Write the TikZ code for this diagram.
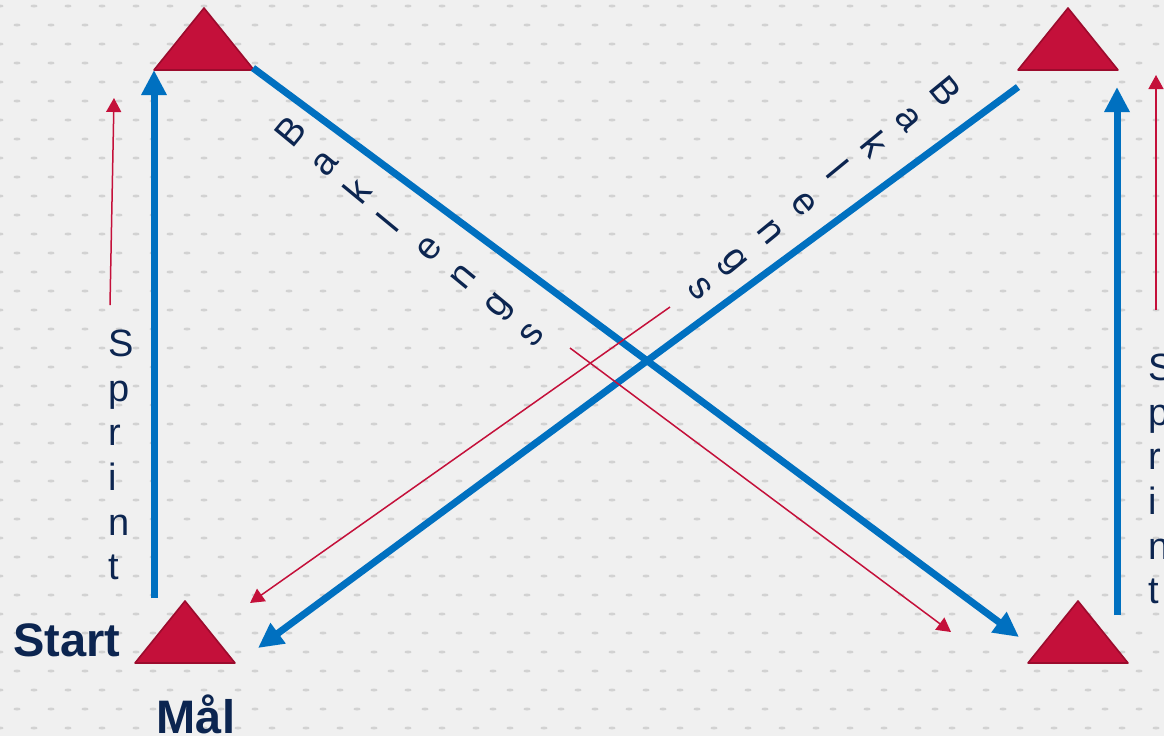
\documentclass[tikz,border=0pt]{standalone}
\usepackage{fontspec}
\setmainfont{Liberation Sans}
\usetikzlibrary{arrows.meta, calc}
\definecolor{DrillBlue}{HTML}{0070C0}
\definecolor{ConeRed}{HTML}{C4103A}
\definecolor{ConeEdge}{HTML}{9C0B2D}
\definecolor{Navy}{HTML}{0C2550}
\definecolor{Fabric}{HTML}{F0F0F0}
\definecolor{FabricDot}{HTML}{D2D2D2}

\begin{document}
\begin{tikzpicture}[x=0.5pt, y=-0.5pt]
  \tikzstyle{cone} = [fill=ConeRed, draw=ConeEdge, line width=0.8pt, line join=round]
  \tikzstyle{run}  = [draw=DrillBlue, line width=3.5pt, -{Triangle[width=12pt, length=12.5pt]}]
  \tikzstyle{hint} = [draw=ConeRed, line width=0.75pt, -{Triangle[width=7.5pt, length=7pt]}]
  \tikzstyle{word} = [inner sep=0pt, align=left, text=Navy, font=\fontsize{19}{22.3}\selectfont]
  \tikzstyle{tag}  = [inner sep=0pt, anchor=base, text=Navy, font=\fontsize{23.5}{28}\selectfont\bfseries]

  % Fabric background
  \useasboundingbox (0,0) rectangle (1164,736);
  \fill[Fabric] (0,0) rectangle (1164,736);
  \begin{scope}
    \clip (0,0) rectangle (1164,736);
    \foreach \r in {0,...,39} {
      \pgfmathsetmacro{\rowshift}{mod(\r,2)*17}
      \foreach \c in {0,...,34}
        \fill[FabricDot] (\c*34+\rowshift, \r*19+6) ellipse [x radius=3.5, y radius=1.5];
    }
  \end{scope}

  % Cones
  \foreach \ax/\ay in {204/8, 185/601, 1068/8, 1078/601}
    \draw[cone] (\ax,\ay) -- (\ax+50,\ay+62) -- (\ax-50,\ay+62) -- cycle;

  % Arrow ends
  \coordinate (sprintL0) at (154,598);
  \coordinate (sprintL1) at (154,70);
  \coordinate (sprintR0) at (1117,615);
  \coordinate (sprintR1) at (1117,87);
  \coordinate (backL0) at (253,68);
  \coordinate (backL1) at (1019,637);
  \coordinate (backR0) at (1018,87);
  \coordinate (backR1) at (258,648);
  \coordinate (hintL0) at (110,305);
  \coordinate (hintL1) at (114,98);
  \coordinate (hintR0) at (1156,310);
  \coordinate (hintR1) at (1156,75);
  \coordinate (hintA0) at (670,307);
  \coordinate (hintA1) at (250,603);
  \coordinate (hintB0) at (570,348);
  \coordinate (hintB1) at (951,632);

  % Runs
  \draw[run] (sprintL0) -- (sprintL1);
  \draw[run] (sprintR0) -- (sprintR1);
  \draw[run] (backL0) -- (backL1);
  \draw[run] (backR0) -- (backR1);
  \draw[hint] (hintL0) -- (hintL1);
  \draw[hint] (hintR0) -- (hintR1);
  \draw[hint] (hintA0) -- (hintA1);
  \draw[hint] (hintB0) -- (hintB1);

  % Labels
  \node[word, anchor=west] (sprintL) at (108,455) {S\\p\\r\\i\\n\\t};
  \node[word, anchor=west] (sprintR) at (1148,479) {S\\p\\r\\i\\n\\t};
  \node[word, rotate=50.5] (bakL) at (411,231) {B\\a\\k\\l\\e\\n\\g\\s};
  \node[word, rotate=-50.7] (bakR) at (825,190) {B\\a\\k\\l\\e\\n\\g\\s};
  \node[tag] (start) at (67,656) {Start};
  \node[tag] (goal) at (196,733) {Mål};
\end{tikzpicture}
\end{document}
